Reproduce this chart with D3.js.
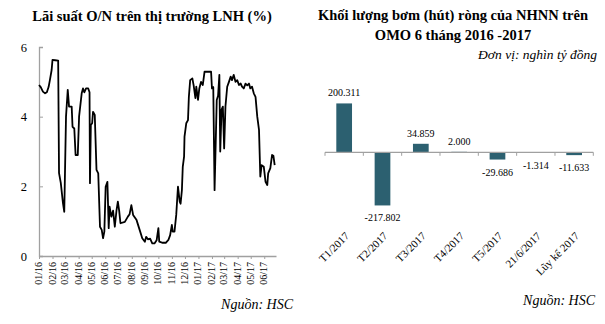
<!DOCTYPE html>
<html>
<head>
<meta charset="utf-8">
<script src="https://cdn.jsdelivr.net/npm/d3@7"></script>
<style>
  body { margin: 0; background: #fff; }
  svg { display: block; }
  svg text { font-family: "Liberation Serif", "DejaVu Serif", serif; fill: #000; }
</style>
</head>
<body>
<svg id="chart" width="605" height="324"></svg>
<script>
// ---- O/N interbank rate (%) ----
const rateDates = [
  "2016-01-01","2016-01-05","2016-01-10","2016-01-15","2016-01-19","2016-01-23","2016-01-26","2016-01-30",
  "2016-02-01","2016-02-07","2016-02-14","2016-02-16","2016-02-20","2016-02-25","2016-02-28",
  "2016-03-03","2016-03-07","2016-03-10","2016-03-16","2016-03-18","2016-03-22","2016-03-25","2016-03-30",
  "2016-04-02","2016-04-08","2016-04-11","2016-04-14","2016-04-18","2016-04-23","2016-04-26","2016-04-27","2016-04-29",
  "2016-05-02","2016-05-04","2016-05-08","2016-05-12","2016-05-16","2016-05-20","2016-05-24","2016-05-27","2016-05-30",
  "2016-06-02","2016-06-06","2016-06-09","2016-06-11","2016-06-15","2016-06-19","2016-06-23","2016-06-27","2016-06-30",
  "2016-07-03","2016-07-06","2016-07-16","2016-07-23","2016-07-27","2016-07-31",
  "2016-08-04","2016-08-12","2016-08-19","2016-08-25","2016-08-31",
  "2016-09-03","2016-09-07","2016-09-12","2016-09-17","2016-09-22","2016-09-27",
  "2016-10-01","2016-10-03","2016-10-11","2016-10-18","2016-10-24","2016-10-28",
  "2016-11-01","2016-11-03","2016-11-07","2016-11-11","2016-11-15","2016-11-19","2016-11-21","2016-11-24","2016-11-26","2016-11-29","2016-11-30",
  "2016-12-04","2016-12-08","2016-12-10","2016-12-13","2016-12-18","2016-12-21","2016-12-25","2016-12-27","2016-12-31",
  "2017-01-03","2017-01-07","2017-01-11","2017-01-15","2017-01-22","2017-01-30",
  "2017-02-01","2017-02-04","2017-02-07","2017-02-12","2017-02-15","2017-02-18","2017-02-20","2017-02-23","2017-02-26",
  "2017-03-01","2017-03-04","2017-03-08","2017-03-12","2017-03-16","2017-03-19","2017-03-23","2017-03-27","2017-03-31",
  "2017-04-04","2017-04-08","2017-04-11","2017-04-15","2017-04-19","2017-04-23","2017-04-27","2017-04-30",
  "2017-05-04","2017-05-08","2017-05-12","2017-05-16","2017-05-20","2017-05-23","2017-05-26","2017-05-31",
  "2017-06-04","2017-06-08","2017-06-10","2017-06-15","2017-06-19","2017-06-22","2017-06-25"
];
const rateValues = [
  4.91,4.85,4.72,4.67,4.70,4.85,5.05,5.34,
  5.63,5.62,5.61,2.38,2.10,1.52,1.27,
  4.00,4.77,4.29,4.29,3.71,3.66,2.90,2.90,
  4.00,4.67,4.81,4.70,4.81,4.81,4.70,2.09,3.76,
  3.81,4.14,4.05,2.47,2.37,0.84,0.75,0.51,0.70,
  1.99,2.13,0.80,1.42,1.13,1.30,0.84,1.32,1.56,
  1.30,0.94,0.98,1.13,1.20,1.46,
  1.18,1.03,0.75,0.51,0.41,
  0.55,0.48,0.50,0.36,0.36,0.45,
  0.80,0.41,0.38,0.38,0.46,0.60,
  0.89,0.70,0.70,1.18,1.99,1.56,1.50,1.89,2.56,2.85,3.43,
  3.81,3.90,4.57,5.05,5.10,4.90,4.53,4.86,4.48,
  4.81,5.00,4.91,5.29,5.29,5.29,
  4.81,4.85,1.89,4.48,4.60,5.20,3.00,4.20,4.29,
  3.09,4.30,4.86,5.00,5.15,5.05,5.20,5.00,5.05,
  4.91,4.95,4.86,4.81,4.95,4.90,4.95,4.81,
  4.86,4.67,4.57,4.00,3.62,2.28,2.61,2.56,
  2.13,2.04,2.37,2.52,2.90,2.88,2.61
];
const rateTickLabels = ["01/16","02/16","03/16","04/16","05/16","06/16","07/16","08/16","09/16",
  "10/16","11/16","12/16","01/17","02/17","03/17","04/17","05/17","06/17"];
const rateYTicks = [0, 2, 4, 6];

// ---- OMO net injection (thousand bn VND) ----
const omoCategories = ["T1/2017","T2/2017","T3/2017","T4/2017","T5/2017","21/6/2017","Lũy kế 2017"];
const omoValues = [200.311, -217.802, 34.859, 2.000, -29.686, -1.314, -11.633];

const SERIF = '"Liberation Serif", "DejaVu Serif", serif';
const svg = d3.select("#chart").attr("font-family", SERIF);
const axisGrey = "#a0a0a0";
const parseDay = d3.timeParse("%Y-%m-%d");
const parseTick = d3.timeParse("%m/%y");

// ================= Left panel: line chart =================
const L = { x0: 39, x1: 276, yTop: 47, yBot: 256 };
const rateData = rateDates.map((d, i) => ({ date: parseDay(d), value: rateValues[i] }));

const xTime = d3.scaleTime()
  .domain([parseDay("2016-01-01"), parseDay("2017-06-28")])
  .range([L.x0, L.x1]);
const yRate = d3.scaleLinear().domain([0, 6]).range([L.yBot, L.yTop]);

svg.append("text")
  .attr("x", 152).attr("y", 21)
  .attr("text-anchor", "middle")
  .style("font-size", "14.5px").style("font-weight", "bold")
  .text("Lãi suất O/N trên thị trường LNH (%)");

// y axis
const yAxisL = svg.append("g").attr("transform", `translate(${L.x0},0)`)
  .call(d3.axisLeft(yRate).tickValues(rateYTicks).tickFormat(d3.format("d")).tickSize(-4).tickPadding(12));
yAxisL.attr("font-family", SERIF);
yAxisL.select(".domain").attr("stroke", axisGrey).attr("stroke-width", 1.3);
yAxisL.selectAll(".tick line").attr("stroke", axisGrey);
yAxisL.selectAll(".tick text").style("font-size", "12.5px");

// x axis
const tickDates = rateTickLabels.map(parseTick);
const xAxisL = svg.append("g").attr("transform", `translate(0,${L.yBot})`)
  .call(d3.axisBottom(xTime).tickValues(tickDates).tickFormat((d, i) => rateTickLabels[i]).tickSize(3).tickSizeOuter(0));
xAxisL.attr("font-family", SERIF);
xAxisL.select(".domain").attr("stroke", axisGrey).attr("stroke-width", 1.3);
xAxisL.selectAll(".tick line").attr("stroke", axisGrey);
xAxisL.selectAll(".tick text")
  .style("font-size", "10px")
  .attr("text-anchor", "end")
  .attr("transform", "rotate(-90)")
  .attr("x", -6).attr("y", -1).attr("dy", "0.35em");

// rate line
svg.append("path")
  .datum(rateData)
  .attr("fill", "none")
  .attr("stroke", "#000")
  .attr("stroke-width", 1.8)
  .attr("stroke-linejoin", "round")
  .attr("d", d3.line().x(d => xTime(d.date)).y(d => yRate(d.value)));

svg.append("text")
  .attr("x", 293).attr("y", 309)
  .attr("text-anchor", "end")
  .style("font-size", "14px").style("font-style", "italic")
  .text("Nguồn: HSC");

// ================= Right panel: bar chart =================
const R = { x0: 325, x1: 593.3 };
svg.append("text")
  .attr("x", 453).attr("y", 20)
  .attr("text-anchor", "middle")
  .style("font-size", "14.5px").style("font-weight", "bold")
  .text("Khối lượng bơm (hút) ròng của NHNN trên");
svg.append("text")
  .attr("x", 453).attr("y", 40)
  .attr("text-anchor", "middle")
  .style("font-size", "14.5px").style("font-weight", "bold")
  .text("OMO 6 tháng 2016 -2017");
svg.append("text")
  .attr("x", 597).attr("y", 59)
  .attr("text-anchor", "end")
  .style("font-size", "13.5px").style("font-style", "italic")
  .text("Đơn vị: nghìn tỷ đồng");

const xBand = d3.scaleBand().domain(omoCategories).range([R.x0, R.x1])
  .paddingInner(0.59).paddingOuter(0.295);
const yOmo = d3.scaleLinear().domain([-250, 250]).range([213.3, 91.3]);
const y0 = yOmo(0);

svg.append("g").selectAll("rect")
  .data(omoValues)
  .join("rect")
  .attr("x", (d, i) => xBand(omoCategories[i]))
  .attr("width", xBand.bandwidth())
  .attr("y", d => Math.min(yOmo(d), y0))
  .attr("height", d => Math.abs(yOmo(d) - y0))
  .attr("fill", "#2c6070");

// category axis on the zero line
const step = xBand.step();
const edges = omoCategories.map(c => xBand(c) - (step - xBand.bandwidth()) / 2).concat([R.x1]);
svg.append("line")
  .attr("x1", R.x0).attr("x2", R.x1).attr("y1", y0).attr("y2", y0)
  .attr("stroke", axisGrey).attr("stroke-width", 1.2);
svg.append("g").selectAll("line")
  .data(edges).join("line")
  .attr("x1", d => d).attr("x2", d => d)
  .attr("y1", y0).attr("y2", y0 + 3.5)
  .attr("stroke", axisGrey);

// value labels
svg.append("g").selectAll("text")
  .data(omoValues).join("text")
  .attr("x", (d, i) => xBand(omoCategories[i]) + xBand.bandwidth() / 2)
  .attr("y", d => d >= 0 ? Math.min(yOmo(d), y0) - 7 : Math.max(yOmo(d), y0) + 16)
  .attr("text-anchor", "middle")
  .style("font-size", "10px")
  .text(d => d3.format(".3f")(d).replace("−", "-"));

// category labels, rotated
svg.append("g").selectAll("text")
  .data(omoCategories).join("text")
  .attr("transform", c => `translate(${xBand(c) + xBand.bandwidth() / 2 + 3},${234}) rotate(-45)`)
  .attr("text-anchor", "end")
  .attr("dy", "0.35em")
  .style("font-size", "11px")
  .text(c => c);

svg.append("text")
  .attr("x", 595).attr("y", 305)
  .attr("text-anchor", "end")
  .style("font-size", "14px").style("font-style", "italic")
  .text("Nguồn: HSC");
</script>
</body>
</html>
